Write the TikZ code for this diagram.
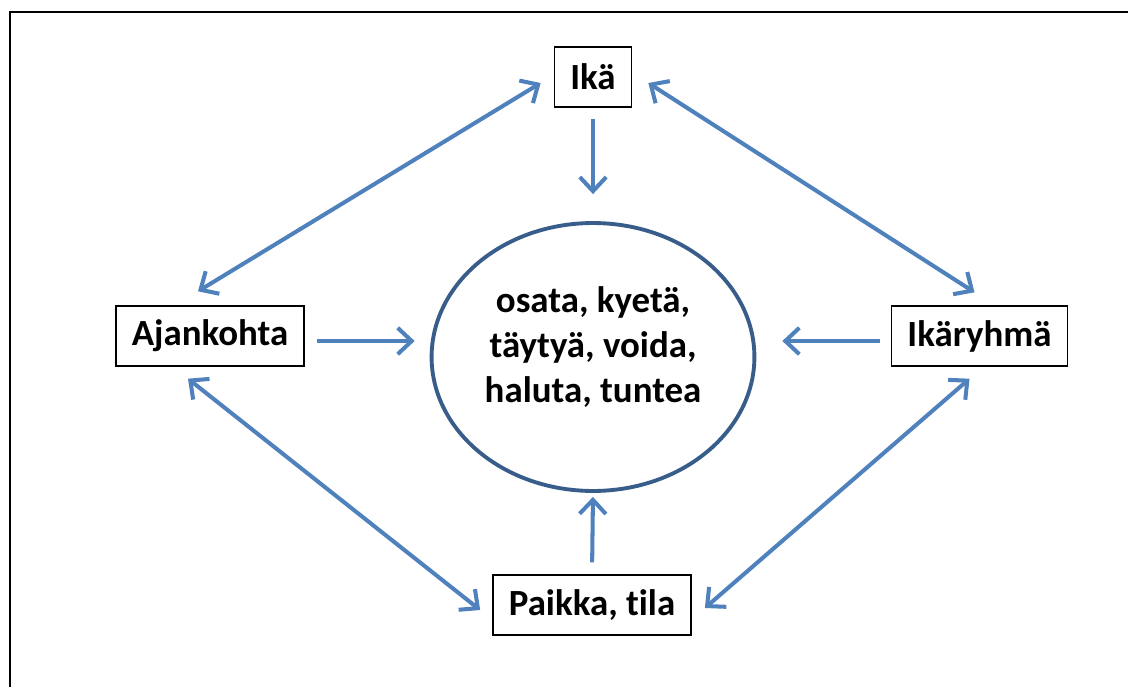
\documentclass[tikz,border=0pt]{standalone}
\usepackage{fontspec}
\setmainfont{Carlito}[Ligatures=NoCommon]
\usepackage{tikz}
\usetikzlibrary{arrows.meta,shapes.geometric}
\definecolor{nuolisin}{RGB}{79,129,189}
\definecolor{reunasin}{RGB}{56,93,138}

\begin{document}
\begin{tikzpicture}[x=0.02cm,y=-0.02cm,
  laatikko/.style={draw=black,line width=0.8pt,inner xsep=0.32cm,minimum height=1.2cm,font=\fontsize{21}{25.6}\selectfont\bfseries},
  nuoli/.style={draw=nuolisin,line width=2.3pt,-{Straight Barb[length=8pt,width=15pt]}},
  kaksi/.style={nuoli,{Straight Barb[length=8pt,width=15pt]}-{Straight Barb[length=8pt,width=15pt]}}]
\useasboundingbox (0,0) rectangle (1128,686);
\draw[line width=1.3pt] (1140,12) -| (10,700);

\node[laatikko] (ika) at (593,77) {Ikä};
\node[laatikko] (ajan) at (210,336) {Ajankohta};
\node[laatikko] (ikar) at (979.5,336) {Ikäryhmä};
\node[laatikko] (paikka) at (592,605) {Paikka, tila};
\node[ellipse,draw=reunasin,line width=2.2pt,minimum width=6.36cm,minimum height=5.36cm,
      align=center,text depth=14pt,font=\fontsize{21}{25.6}\selectfont\bfseries] (kesk) at (593,357)
      {osata, kyetä,\\täytyä, voida,\\haluta, tuntea};

% suorat nuolet keskelle
\draw[nuoli,shorten <=0.22cm,shorten >=0.54cm] (ika.south) -- (kesk.north);
\draw[nuoli,shorten <=0.24cm,shorten >=0.3cm] ([yshift=-0.1cm]ajan.east) -- ([yshift=-0.1cm]ajan.east -| kesk.west);
\draw[nuoli,shorten <=0.22cm,shorten >=0.52cm] ([yshift=-0.1cm]ikar.west) -- ([yshift=-0.1cm]ikar.west -| kesk.east);
\draw[nuoli,shorten <=0.24cm,shorten >=0.08cm] (paikka.north) -- (kesk.south);

% vinot nuolet
\draw[kaksi] ([shift={(-13,6)}]ika.west) -- ([shift={(-12,-14)}]ajan.north);
\draw[kaksi] ([shift={(16,6)}]ika.east) -- ([shift={(-5,-13)}]ikar.north);
\draw[kaksi] ([shift={(-22,12)}]ajan.south) -- ([shift={(-12,5)}]paikka.west);
\draw[kaksi] ([shift={(-10,12)}]ikar.south) -- ([shift={(13,3)}]paikka.east);
\end{tikzpicture}
\end{document}
